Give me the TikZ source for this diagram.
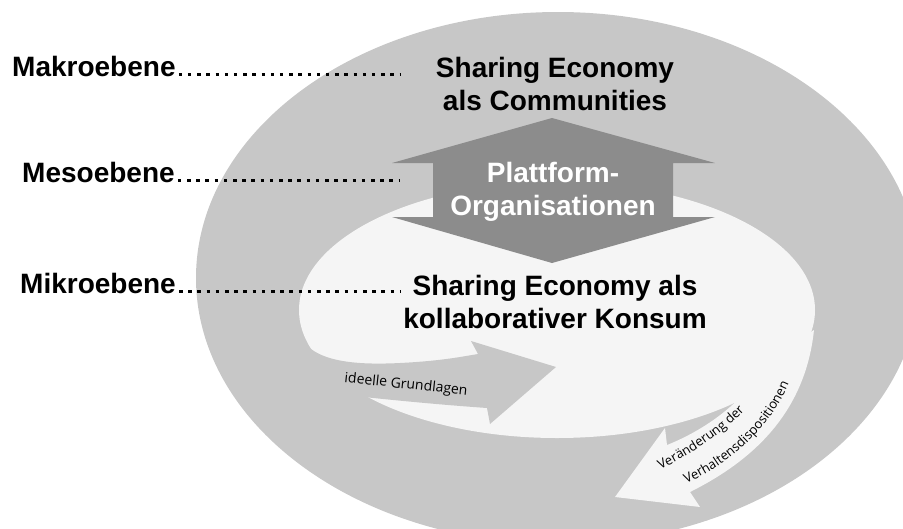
\documentclass[tikz,border=0pt]{standalone}
\usepackage{fontspec}
\setmainfont{Liberation Sans}
\newfontfamily\pfeilfont{Open Sans}
\usetikzlibrary{positioning,decorations.text}
\definecolor{ring}{gray}{0.78}
\definecolor{kern}{gray}{0.96}
\definecolor{plattform}{gray}{0.55}

\begin{document}
\begin{tikzpicture}[x=1pt,y=-1pt,
                ebene/.style = {anchor=base west, inner sep=0pt, font=\fontsize{28}{33}\selectfont\bfseries},
                inhalt/.style = {anchor=base, align=center, inner sep=0pt, font=\fontsize{28}{33}\selectfont\bfseries},
                punkte/.style = {line width=3.5pt, dash pattern=on 3.5pt off 5.7pt, shorten <=3pt},
                pfeiltext/.style = {inner sep=0pt, font=\fontsize{14}{16}\selectfont\pfeilfont}
                ]
                \clip (0,0) rectangle (903,528);
                \fill[ring] (558,278) ellipse [x radius=362, y radius=266];
                \fill[kern] (557,310) ellipse [x radius=258, y radius=128];
                \fill[ring] (296,322) .. controls (300,358) and (340,366) .. (400,363)
                    .. controls (440,361) and (460,357) .. (478,354) -- (471,341) -- (556,367)
                    -- (490,424) -- (487,408) .. controls (430,404) and (370,398) .. (300,390) -- cycle;
                \fill[kern] (760,365) .. controls (752,395) and (710,428) .. (667,445) -- (665,428) -- (615,497)
                    -- (700,507) -- (690,492) .. controls (750,462) and (805,415) .. (814,330) -- cycle;
                \fill[plattform] (552,118) -- (715,163) -- (673,163) -- (673,217) -- (715,217) -- (552,263)
                    -- (392,217) -- (433,217) -- (433,163) -- (392,163) -- cycle;

                \node[ebene] (makro) at (12,76) {Makroebene};
                \node[ebene] (meso) at (22,182) {Mesoebene};
                \node[ebene] (mikro) at (20,293) {Mikroebene};
                \node[inhalt] (communities) at (555,110) {Sharing Economy\\als Communities};
                \node[inhalt, text=white] (organisationen) at (553,215) {Plattform-\\Organisationen};
                \node[inhalt] (konsum) at (555,328) {Sharing Economy als\\kollaborativer Konsum};
                \node[pfeiltext, rotate=-6] (grundlagen) at (406,385) {ideelle Grundlagen};
                \path[decorate, decoration={text along path, text align=center,
                    text={|\fontsize{13}{15}\selectfont\pfeilfont|Veränderung der}}]
                    (648,476) .. controls (685,458) and (727,433) .. (754,400);
                \path[decorate, decoration={text along path, text align=center,
                    text={|\fontsize{13}{15}\selectfont\pfeilfont|Verhaltensdispositionen}}]
                    (676,488) .. controls (730,466) and (775,425) .. (793,373);

                \coordinate (ende) at (400,0);
                \draw[punkte] ([yshift=1.75pt]makro.base east) -- ([yshift=1.75pt]makro.base east -| ende);
                \draw[punkte] ([yshift=1.75pt]meso.base east) -- ([yshift=1.75pt]meso.base east -| ende);
                \draw[punkte] ([yshift=1.75pt]mikro.base east) -- ([yshift=1.75pt]mikro.base east -| ende);
\end{tikzpicture}
\end{document}
